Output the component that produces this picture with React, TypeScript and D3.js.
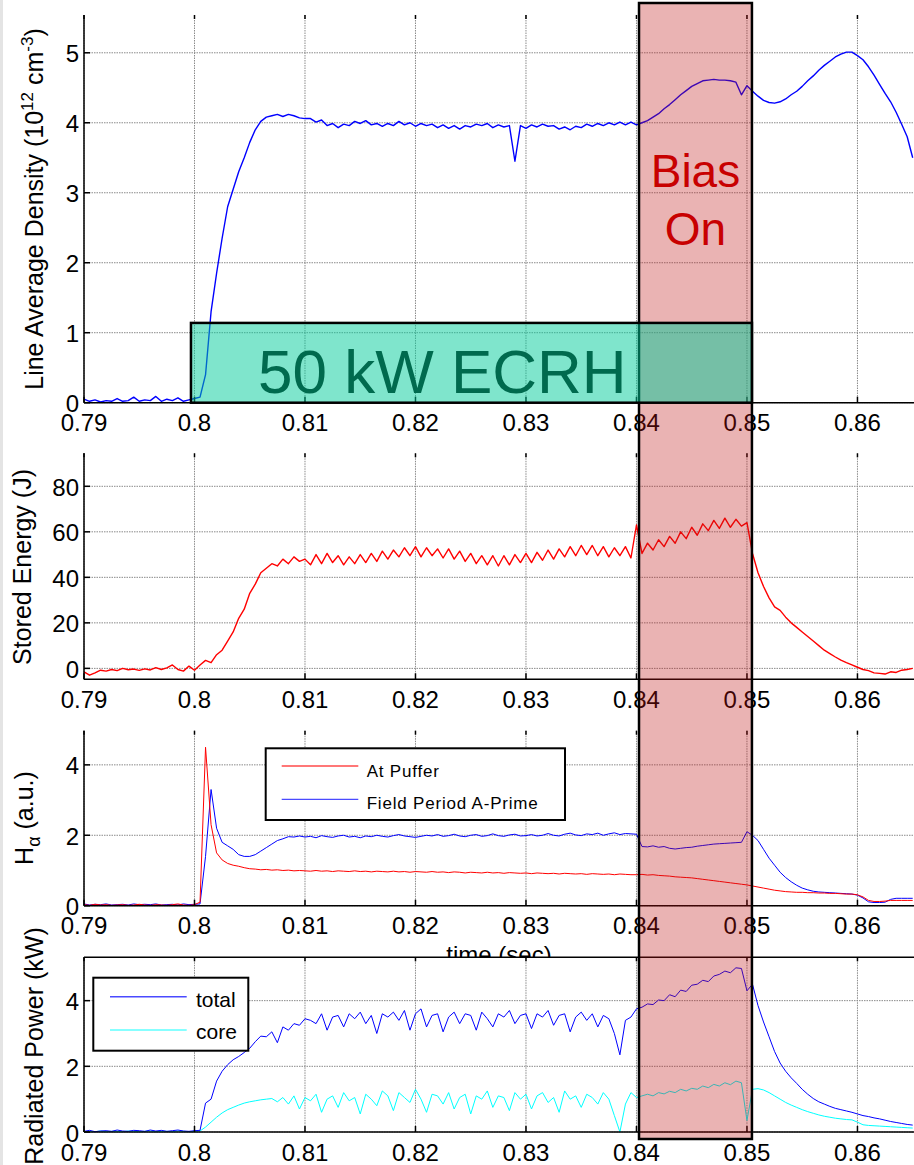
import React from 'react';
import * as d3 from 'd3';

// Sample times (s) shared by every trace: 0.790 .. 0.865 in 0.5 ms steps
const TIME = d3.range(151).map((i) => +(0.79 + i * 0.0005).toFixed(4));

const X_TICKS = [0.79, 0.8, 0.81, 0.82, 0.83, 0.84, 0.85, 0.86];
const X_TICK_LABELS = ['0.79', '0.8', '0.81', '0.82', '0.83', '0.84', '0.85', '0.86'];
const DENSITY_TICKS = [0, 1, 2, 3, 4, 5];
const ENERGY_TICKS = [0, 20, 40, 60, 80];
const HALPHA_TICKS = [0, 2, 4];
const PRAD_TICKS = [0, 2, 4];

// Line average density (1e12 cm^-3)
const density = [
  0.05, 0.02, 0.04, 0.01, 0.03, 0.02, 0.06, 0.02, 0.03, 0.08, 0.02, 0.04, 0.03, 0.09, 0.02, 0.05, 0.03, 0.07, 0.02, 0.04, 0.06,
  0.08, 0.4, 1.3, 1.85, 2.35, 2.8, 3.05, 3.3, 3.5, 3.72, 3.9, 4.02, 4.08, 4.1, 4.12, 4.09, 4.12, 4.1, 4.07, 4.06,
  4.06, 4.01, 4.04, 3.96, 3.99, 3.93, 3.98, 3.96, 4.02, 3.99, 4.03, 3.97, 3.99, 3.95, 3.99, 3.96, 4.02, 3.97, 4.0, 3.95,
  3.99, 3.96, 3.98, 3.93, 3.97, 3.92, 3.96, 3.91, 3.96, 3.94, 3.98, 3.96, 3.99, 3.93, 3.97, 3.94, 3.96, 3.45, 3.96, 3.92,
  3.97, 3.94, 3.98, 3.95, 3.96, 3.91, 3.94, 3.9, 3.95, 3.93, 3.98, 3.95, 3.99, 3.96, 4.0, 3.97, 4.01, 3.97, 4.01, 3.97,
  4.0, 4.03, 4.08, 4.13, 4.2, 4.26, 4.33, 4.4, 4.46, 4.52, 4.56, 4.6, 4.61, 4.62, 4.61, 4.61, 4.6, 4.58, 4.4, 4.53,
  4.45, 4.38, 4.32, 4.29, 4.28, 4.3, 4.34, 4.4, 4.45, 4.52, 4.6, 4.67, 4.75, 4.82, 4.88, 4.94, 4.98, 5.01, 5.01, 4.96,
  4.9, 4.8, 4.68, 4.55, 4.42, 4.3, 4.15, 3.98, 3.8, 3.5,
];

// Stored energy (J)
const storedEnergy = [
  -1.5, -3, -2, -0.8, -1.2, -0.5, -1, 0, -0.6, -0.3, -0.9, -0.2, -0.7, 0.3, -0.5, 0.2, 1.5, -0.5, -1.2, 1, -0.8,
  1.5, 3.5, 2.5, 6, 8, 12, 16, 22, 26, 33, 37, 42, 44, 46, 45, 48, 46, 49, 47, 48,
  45.5, 50, 46, 50.5, 46.5, 49.5, 45.5, 49, 46, 50, 46.5, 50.5, 47, 51.5, 48, 52, 49, 53, 49.5, 53.5,
  49, 53, 49.5, 52.5, 48.5, 52.5, 48, 51.5, 47, 50.5, 46, 49.5, 45.5, 49.5, 45, 49.5, 45.5, 50, 46.5, 50.5,
  46.5, 51, 47.5, 52, 48, 52.5, 49, 53.5, 49.5, 54, 50, 54, 49.5, 53.5, 49, 53, 49.5, 53.5, 48.5, 63,
  50.5, 55, 52, 56.5, 53.5, 58, 55, 60, 57, 62, 58.5, 63.5, 60.5, 65, 61.5, 66, 62, 65.5, 62.5, 64,
  50.5, 42, 36, 31, 27, 25.5, 22.5, 20, 18, 16, 14, 12, 10, 8, 6.5, 5, 3.6, 2.5, 1.5, 0.5,
  -0.5, -1, -2, -2.2, -2.5, -1.5, -1.8, -0.8, -0.5, 0,
];

// H-alpha (a.u.) at the gas puffer
const hAlphaPuffer = [
  0.03, 0.01, 0.04, 0.02, 0.03, 0.01, 0.02, 0.03, 0.01, 0.02, 0.04, 0.02, 0.01, 0.03, 0.02, 0.01, 0.03, 0.05, 0.02, 0.01, 0.03,
  0.1, 4.5, 2.3, 1.5, 1.3, 1.2, 1.15, 1.12, 1.08, 1.05, 1.04, 1.02, 1.03, 1.01, 1.02, 1.0, 1.01, 0.99, 1.0, 0.99,
  0.98, 1.0, 0.98, 0.99, 0.97, 0.99, 0.98, 0.97, 0.99, 0.97, 0.98, 0.96, 0.98, 0.97, 0.96, 0.98, 0.96, 0.97, 0.95, 0.97,
  0.96, 0.95, 0.97, 0.95, 0.96, 0.94, 0.96, 0.95, 0.93, 0.95, 0.94, 0.93, 0.95, 0.93, 0.94, 0.92, 0.94, 0.93, 0.92, 0.93,
  0.91, 0.93, 0.92, 0.91, 0.92, 0.9, 0.92, 0.91, 0.9, 0.91, 0.89, 0.91, 0.9, 0.89, 0.9, 0.88, 0.9, 0.89, 0.88, 0.88,
  0.89, 0.87, 0.88, 0.86, 0.85, 0.84, 0.82, 0.81, 0.8, 0.79, 0.77, 0.75, 0.73, 0.71, 0.69, 0.67, 0.65, 0.63, 0.61, 0.59,
  0.56, 0.53, 0.5, 0.47, 0.44, 0.42, 0.4, 0.39, 0.38, 0.38, 0.37, 0.37, 0.36, 0.36, 0.35, 0.35, 0.34, 0.33, 0.33, 0.31,
  0.25, 0.15, 0.12, 0.12, 0.13, 0.15, 0.15, 0.15, 0.15, 0.15,
];

// H-alpha (a.u.) in field period A-prime
const hAlphaAPrime = [
  0.05, 0.02, 0.04, 0.03, 0.05, 0.02, 0.03, 0.04, 0.02, 0.05, 0.03, 0.04, 0.03, 0.05, 0.02, 0.03, 0.04, 0.02, 0.05, 0.03, 0.04,
  0.05, 1.4, 3.3, 2.2, 1.8, 1.7, 1.6, 1.45, 1.4, 1.4, 1.45, 1.55, 1.65, 1.75, 1.85, 1.9, 1.96, 1.95, 1.98, 1.95,
  1.97, 1.93, 1.99, 1.96, 1.94, 1.98, 2.0, 1.95, 1.97, 1.93, 1.98, 1.96, 2.0, 1.97, 1.95, 1.99, 2.02, 1.98, 1.96, 1.94,
  1.97, 2.0, 1.98, 2.02, 1.97, 1.99, 2.03, 1.98, 1.96, 2.0, 2.02, 1.97, 1.99, 2.04, 1.99, 1.97, 2.01, 2.03, 1.98, 1.99,
  2.02, 1.98, 2.0, 2.05, 2.0, 1.98, 2.03, 2.06, 2.01, 1.99, 2.04, 2.02, 2.06, 2.0, 2.04, 2.07, 2.02, 2.05, 2.04, 2.03,
  1.68, 1.67, 1.7, 1.66, 1.68, 1.63, 1.61, 1.63, 1.65, 1.66, 1.69, 1.71, 1.73, 1.75, 1.76, 1.77, 1.78, 1.79, 1.8, 2.1,
  2.0, 1.85, 1.6, 1.35, 1.15, 0.95, 0.8, 0.68, 0.58, 0.5, 0.45, 0.41, 0.39, 0.38, 0.37, 0.36, 0.35, 0.34, 0.33, 0.3,
  0.22, 0.11, 0.09, 0.09, 0.1, 0.18, 0.21, 0.21, 0.21, 0.21,
];

// Radiated power (kW), total
const pradTotal = [
  0.02, 0.05, 0.01, 0.03, 0.04, 0.02, 0.06, 0.03, 0.02, 0.05, 0.04, 0.02, 0.06, 0.03, 0.05, 0.02, 0.04, 0.06, 0.03, 0.02, 0.04,
  0.05, 0.88, 1.0, 1.55, 1.85, 2.05, 2.2, 2.3, 2.42, 2.55, 2.75, 2.92, 2.9, 3.05, 2.72, 3.2, 3.1, 3.3, 3.25, 3.45,
  3.4, 3.3, 3.6, 3.1, 3.5, 3.55, 3.2, 3.6, 3.45, 3.65, 3.3, 3.55, 3.0, 3.6, 3.5, 3.65, 3.4, 3.7, 3.1, 3.6,
  3.75, 3.2, 3.55, 3.6, 3.05, 3.5, 3.65, 3.3, 3.6, 3.55, 3.1, 3.65, 3.45, 3.2, 3.6, 3.5, 3.7, 3.3, 3.55, 3.6,
  3.15, 3.6, 3.5, 3.7, 3.25, 3.55, 3.6, 3.05, 3.5, 3.65, 3.4, 3.6, 3.2, 3.55, 3.45, 3.0, 2.35, 3.4, 3.5, 3.75,
  3.8, 3.9, 3.88, 4.02, 4.0, 4.18, 4.12, 4.32, 4.28, 4.47, 4.5, 4.62, 4.58, 4.75, 4.8, 4.9, 4.85, 5.0, 4.98, 4.3,
  4.5, 3.85, 3.35, 2.9, 2.45, 2.1, 1.85, 1.65, 1.48, 1.3, 1.15, 1.02, 0.92, 0.85, 0.78, 0.72, 0.68, 0.64, 0.6, 0.55,
  0.5, 0.47, 0.43, 0.4, 0.36, 0.32, 0.29, 0.26, 0.23, 0.21,
];

// Radiated power (kW), core
const pradCore = [
  0.01, 0.02, 0.01, 0.03, 0.01, 0.02, 0.02, 0.01, 0.03, 0.02, 0.01, 0.02, 0.03, 0.01, 0.02, 0.02, 0.01, 0.03, 0.02, 0.01, 0.02,
  0.03, 0.15, 0.3, 0.45, 0.58, 0.68, 0.75, 0.82, 0.88, 0.92, 0.95, 0.98, 1.0, 1.02, 0.92, 1.05, 0.85, 1.1, 0.7, 1.05,
  0.95, 1.15, 0.6, 1.0, 1.1, 0.75, 1.2, 0.95, 1.05, 0.55, 1.15, 1.0, 0.8, 1.25, 1.1, 0.65, 1.2, 1.05, 0.9, 1.3,
  1.0, 0.6, 1.15, 1.1, 0.85, 1.2, 0.7, 1.05, 1.15, 0.55, 1.1, 1.0, 1.25, 0.75, 1.1, 1.05, 0.65, 1.2, 1.0, 1.15,
  0.7, 1.1, 1.2, 0.9, 1.05, 0.6, 1.25, 1.0, 1.1, 0.75, 1.15, 1.05, 0.85, 1.2, 1.0, 0.5, 0.0, 0.85, 1.2, 1.05,
  1.1, 1.15, 1.1, 1.2, 1.16, 1.24, 1.2, 1.3, 1.25, 1.33, 1.3, 1.4, 1.35, 1.45, 1.4, 1.5, 1.44, 1.55, 1.5, 0.35,
  1.3, 1.32, 1.28, 1.2, 1.1, 1.0, 0.9, 0.82, 0.75, 0.68, 0.62, 0.57, 0.52, 0.48, 0.45, 0.42, 0.4, 0.38, 0.37, 0.3,
  0.22, 0.2, 0.19, 0.18, 0.17, 0.16, 0.15, 0.14, 0.13, 0.12,
];

// Heating / biasing windows (s) and the ECRH box height in density units
const ECRH_WINDOW = [0.79968, 0.85045];
const ECRH_LEVEL = 1.14;
const BIAS_WINDOW = [0.84023, 0.85045];

const FONT = "'Liberation Sans', Arial, Helvetica, sans-serif";
const W = 914;
const H = 1165;
const X0 = 84;
const X1 = 920;

const x = d3.scaleLinear().domain([0.79, 0.86566]).range([X0, X1]);

type Series = { values: number[]; color: string; width: number };

type PanelSpec = {
  key: string;
  top: number;
  bottom: number;
  domain: [number, number];
  ticks: number[];
  series: Series[];
  topLine?: boolean;
};

const panels: PanelSpec[] = [
  { key: 'ne', top: 15, bottom: 402.7, domain: [0, 5.54], ticks: DENSITY_TICKS, series: [{ values: density, color: '#0000ff', width: 1.4 }] },
  { key: 'we', top: 453.3, bottom: 679.3, domain: [-4.8, 94.5], ticks: ENERGY_TICKS, series: [{ values: storedEnergy, color: '#ff0000', width: 1.4 }] },
  {
    key: 'ha', top: 730.7, bottom: 905.7, domain: [0, 4.97], ticks: HALPHA_TICKS,
    series: [
      { values: hAlphaAPrime, color: '#0000ff', width: 1 },
      { values: hAlphaPuffer, color: '#ff0000', width: 1 },
    ],
  },
  {
    key: 'pr', top: 957.3, bottom: 1132, domain: [0, 5.32], ticks: PRAD_TICKS, topLine: true,
    series: [
      { values: pradCore, color: '#00ffff', width: 1 },
      { values: pradTotal, color: '#0000ff', width: 1 },
    ],
  },
];

function Panel({ p }: { p: PanelSpec }) {
  const y = d3.scaleLinear().domain(p.domain).range([p.bottom, p.top]);
  const line = d3
    .line<number>()
    .x((_, i) => x(TIME[i]))
    .y((d) => y(d));
  const grid = '#8a8a8a';
  return (
    <g>
      <rect x={X0} y={p.top} width={X1 - X0} height={p.bottom - p.top} fill="#fff" />
      {X_TICKS.map((t) => (
        <line key={'gx' + t} x1={x(t)} x2={x(t)} y1={p.top} y2={p.bottom} stroke={grid} strokeWidth={1} strokeDasharray="1.5 1" />
      ))}
      {p.ticks.map((v) => (
        <line key={'gy' + v} x1={X0} x2={X1} y1={y(v)} y2={y(v)} stroke={grid} strokeWidth={1} strokeDasharray="1.5 1" />
      ))}
      {p.series.map((s, k) => (
        <path key={k} d={line(s.values) || ''} fill="none" stroke={s.color} strokeWidth={s.width} strokeLinejoin="round" />
      ))}
      {/* axes */}
      <line x1={X0} x2={X0} y1={p.top} y2={p.bottom} stroke="#000" strokeWidth={1.5} />
      <line x1={X0} x2={X1} y1={p.bottom} y2={p.bottom} stroke="#000" strokeWidth={1.5} />
      {p.topLine && <line x1={X0} x2={X1} y1={p.top} y2={p.top} stroke="#000" strokeWidth={1.5} />}
      {X_TICKS.map((t) => (
        <g key={'tx' + t}>
          <line x1={x(t)} x2={x(t)} y1={p.bottom} y2={p.bottom - 6} stroke="#000" strokeWidth={1.5} />
          <line x1={x(t)} x2={x(t)} y1={p.top} y2={p.top + 4} stroke="#000" strokeWidth={1.5} />
        </g>
      ))}
      {p.ticks.map((v) => (
        <line key={'ty' + v} x1={X0} x2={X0 + 6} y1={y(v)} y2={y(v)} stroke="#000" strokeWidth={1.5} />
      ))}
      {p.ticks.map((v) => (
        <text key={'ly' + v} x={79} y={y(v) + 9.5} textAnchor="end" fontSize={24} fontFamily={FONT} fill="#000">
          {v}
        </text>
      ))}
      {X_TICK_LABELS.map((label, i) => (
        <text key={'lx' + label} x={x(X_TICKS[i])} y={p.bottom + 28.5} textAnchor="middle" fontSize={24} fontFamily={FONT} fill="#000">
          {label}
        </text>
      ))}
    </g>
  );
}

export default function App() {
  const yNe = d3.scaleLinear().domain(panels[0].domain).range([panels[0].bottom, panels[0].top]);
  const bx0 = x(BIAS_WINDOW[0]);
  const bx1 = x(BIAS_WINDOW[1]);
  const ex0 = x(ECRH_WINDOW[0]);
  const ex1 = x(ECRH_WINDOW[1]);
  return (
    <svg
      width={W}
      height={H}
      viewBox={`0 0 ${W} ${H}`}
      style={{ position: 'absolute', left: 0, top: 0, background: '#fff' }}
      fontFamily={FONT}
    >
      <rect x={0} y={0} width={W} height={H} fill="#fff" />
      <rect x={0} y={0} width={3} height={H} fill="#e4e4e4" />

      <Panel p={panels[0]} />
      <Panel p={panels[1]} />
      <Panel p={panels[2]} />
      {/* x-axis title of the H-alpha panel, mostly hidden under the panel below */}
      <text x={499} y={963} textAnchor="middle" fontSize={24} fill="#000">time (sec)</text>
      <Panel p={panels[3]} />

      {/* y-axis titles */}
      <text transform="translate(43,209) rotate(-90)" textAnchor="middle" fontSize={25} fill="#000">
        Line Average Density (10
        <tspan fontSize={17} dy={-10}>12</tspan>
        <tspan dy={10}> cm</tspan>
        <tspan fontSize={17} dy={-10}>-3</tspan>
        <tspan dy={10}>)</tspan>
      </text>
      <text transform="translate(31,567) rotate(-90)" textAnchor="middle" fontSize={25} fill="#000">
        Stored Energy (J)
      </text>
      <text transform="translate(33,818) rotate(-90)" textAnchor="middle" fontSize={25} fill="#000">
        H
        <tspan fontSize={18} dy={7}>α</tspan>
        <tspan dy={-7}> (a.u.)</tspan>
      </text>
      <text transform="translate(43,1046) rotate(-90)" textAnchor="middle" fontSize={25} fill="#000">
        Radiated Power (kW)
      </text>

      {/* H-alpha legend */}
      <g>
        <rect x={265.7} y={748.3} width={299.3} height={71.7} fill="#fff" stroke="#000" strokeWidth={2} />
        <line x1={281.7} x2={358.3} y1={766} y2={766} stroke="#ff4a4a" strokeWidth={1.3} />
        <line x1={281.7} x2={358.3} y1={799.3} y2={799.3} stroke="#4a4aff" strokeWidth={1.3} />
        <text x={366.7} y={777} fontSize={17} letterSpacing={0.8} fill="#000">At Puffer</text>
        <text x={366.7} y={809} fontSize={17} letterSpacing={0.8} fill="#000">Field Period A-Prime</text>
      </g>

      {/* radiated power legend */}
      <g>
        <rect x={93.3} y={977.7} width={155} height={73} fill="#fff" stroke="#000" strokeWidth={2} />
        <line x1={110} x2={186.7} y1={996.7} y2={996.7} stroke="#4a4aff" strokeWidth={1.5} />
        <line x1={110} x2={186.7} y1={1030} y2={1030} stroke="#5fffff" strokeWidth={1.5} />
        <text x={196} y={1006.5} fontSize={21} fill="#000">total</text>
        <text x={196} y={1039} fontSize={21} fill="#000">core</text>
      </g>

      {/* bias window */}
      <rect
        x={bx0}
        y={3}
        width={bx1 - bx0}
        height={1136}
        fill="rgb(190,20,20)"
        fillOpacity={0.32}
        stroke="#000"
        strokeWidth={2.5}
      />
      <text x={(bx0 + bx1) / 2} y={187} textAnchor="middle" fontSize={46} fill="#c80000">Bias</text>
      <text x={(bx0 + bx1) / 2} y={245} textAnchor="middle" fontSize={46} fill="#c80000">On</text>

      {/* ECRH window */}
      <rect
        x={ex0}
        y={yNe(ECRH_LEVEL)}
        width={ex1 - ex0}
        height={yNe(0) - yNe(ECRH_LEVEL)}
        fill="rgb(0,203,153)"
        fillOpacity={0.5}
        stroke="#000"
        strokeWidth={2.5}
      />
      <text x={258} y={393} fontSize={62} fill="#006a4e">50 kW ECRH</text>
    </svg>
  );
}
